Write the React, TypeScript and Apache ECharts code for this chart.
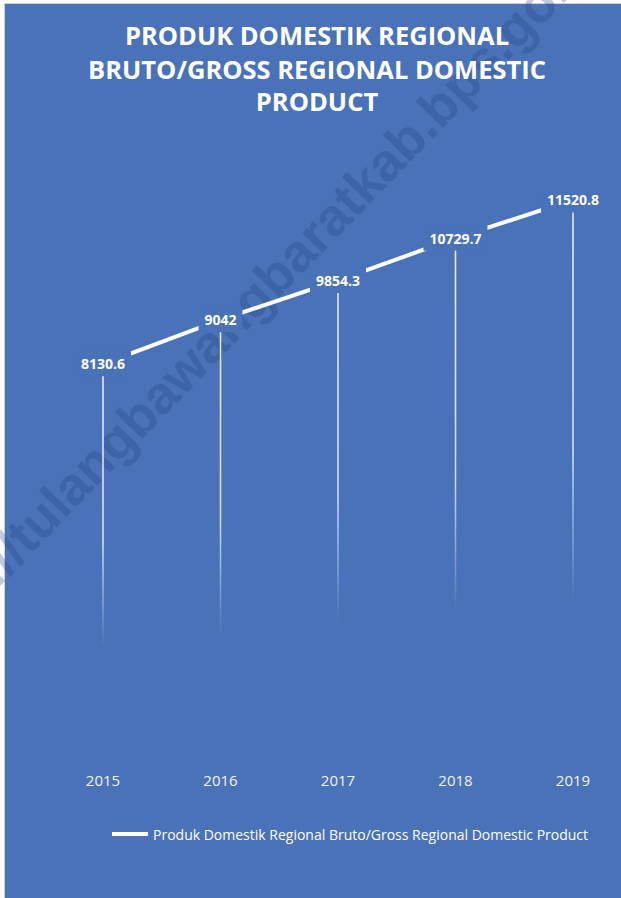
import React, { useEffect, useRef } from "react";
import * as echarts from "echarts";

const years = ["2015", "2016", "2017", "2018", "2019"];
const values = [8130.6, 9042, 9854.3, 10729.7, 11520.8];
const seriesName = "Produk Domestik Regional Bruto/Gross Regional Domestic Product";
const titleLines = ["PRODUK DOMESTIK REGIONAL", "BRUTO/GROSS REGIONAL DOMESTIC", "PRODUCT"];
const watermarkPrefix = "https://";
const watermarkText = "tulangbawangbaratkab.bps.go.id";

const BLUE = "#4A72B8";
const FONT = "'Open Sans', 'Noto Sans', sans-serif";

export default function App() {
  const ref = useRef<HTMLDivElement>(null);
  useEffect(() => {
    if (!ref.current) return;
    const chart = echarts.init(ref.current, null, { renderer: "svg" });
    const titleY = [35, 69, 101];
    const wmFont = "bold 53px 'Liberation Sans', Arial, sans-serif";
    const wmFill = "rgba(31,63,127,0.28)";
    const option: any = {
      animation: false,
      backgroundColor: "#ffffff",
      grid: { left: 103, right: 48, top: 80, bottom: 141 },
      xAxis: {
        type: "category",
        data: years,
        boundaryGap: false,
        axisLine: { show: false },
        axisTick: { show: false },
        axisLabel: { color: "#f2f2f2", fontSize: 15, fontFamily: FONT, margin: 15 },
      },
      yAxis: {
        type: "value",
        min: 0,
        max: 14000,
        interval: 2000,
        show: false,
        splitLine: { show: false },
      },
      legend: {
        data: [seriesName],
        left: 107,
        top: 822,
        icon: "rect",
        itemWidth: 36,
        itemHeight: 4,
        itemStyle: { color: "#ffffff" },
        textStyle: { color: "#ffffff", fontSize: 14, fontFamily: FONT },
        selectedMode: false,
      },
      graphic: [
        {
          type: "rect",
          z: -10,
          shape: { x: 4.5, y: 3.5, width: 640, height: 920 },
          style: { fill: BLUE, stroke: "#d0d0d0", lineWidth: 1 },
          silent: true,
        },
        ...titleLines.map((t, i) => ({
          type: "text",
          z: 5,
          x: 317,
          y: titleY[i],
          style: {
            text: t,
            fill: "#ffffff",
            font: `bold 25.5px ${FONT}`,
            textAlign: "center",
            textVerticalAlign: "middle",
          },
          silent: true,
        })),
        {
          type: "group",
          x: 16,
          y: 543,
          rotation: (46 * Math.PI) / 180,
          z: 100,
          silent: true,
          children: [
            {
              type: "text",
              style: {
                text: watermarkText,
                fill: wmFill,
                font: wmFont,
                textAlign: "left",
                textVerticalAlign: "middle",
              },
            },
            {
              type: "text",
              style: {
                text: watermarkPrefix,
                fill: wmFill,
                font: wmFont,
                textAlign: "right",
                textVerticalAlign: "middle",
              },
            },
          ],
        },
      ],
      series: [
        {
          type: "bar",
          name: "drop",
          data: values,
          barWidth: 1.5,
          z: 1,
          silent: true,
          clip: false,
          itemStyle: {
            color: new echarts.graphic.LinearGradient(0, 0, 0, 1, [
              { offset: 0, color: "rgba(255,255,255,0.9)" },
              { offset: 0.45, color: "rgba(255,255,255,0.8)" },
              { offset: 0.72, color: "rgba(255,255,255,0)" },
              { offset: 1, color: "rgba(255,255,255,0)" },
            ]),
          },
        },
        {
          type: "line",
          name: seriesName,
          data: values,
          z: 3,
          symbol: "circle",
          symbolSize: 1,
          itemStyle: { color: "rgba(255,255,255,0)" },
          lineStyle: { color: "#ffffff", width: 4 },
          label: {
            show: true,
            position: "inside",
            color: "#ffffff",
            fontWeight: "bold",
            fontSize: 14,
            fontFamily: FONT,
            backgroundColor: BLUE,
            padding: [4, 6],
            lineHeight: 17,
          },
        },
      ],
    };
    chart.setOption(option);
    return () => chart.dispose();
  }, []);
  return (
    <div
      ref={ref}
      style={{ position: "absolute", left: 0, top: 0, width: 621, height: 898 }}
    />
  );
}
